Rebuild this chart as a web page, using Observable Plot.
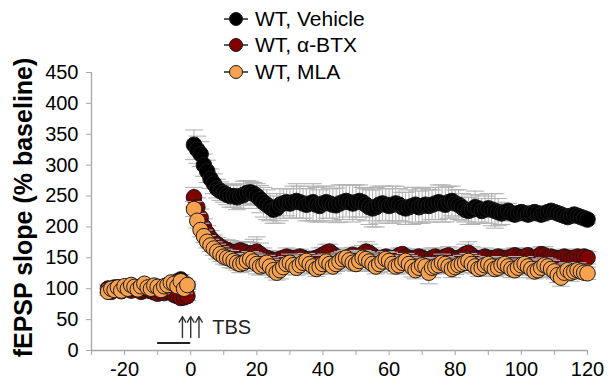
<!DOCTYPE html>
<html>
<head>
<meta charset="utf-8">
<script src="https://cdn.jsdelivr.net/npm/d3@7"></script>
<script src="https://cdn.jsdelivr.net/npm/@observablehq/plot@0.6"></script>
<style>
  html, body { margin: 0; padding: 0; background: #fff; }
  #wrap { position: relative; width: 612px; height: 385px; font-family: "Liberation Sans", Arial, sans-serif; }
  #legend { position: absolute; left: 0; top: 0; }
</style>
</head>
<body>
<div id="wrap"></div>
<script>
// ---- data ----
const times = [-25,-24,-23,-22,-21,-20,-19,-18,-17,-16,-15,-14,-13,-12,-11,-10,-9,-8,-7,-6,-5,-4,-3,-2,-1,
  1,2,3,4,5,6,7,8,9,10,11,12,13,14,15,16,17,18,19,20,21,22,23,24,25,26,27,28,29,30,
  31,32,33,34,35,36,37,38,39,40,41,42,43,44,45,46,47,48,49,50,51,52,53,54,55,56,57,58,59,60,
  61,62,63,64,65,66,67,68,69,70,71,72,73,74,75,76,77,78,79,80,81,82,83,84,85,86,87,88,89,90,
  91,92,93,94,95,96,97,98,99,100,101,102,103,104,105,106,107,108,109,110,111,112,113,114,115,116,117,118,119,120];

const vehicleMean = [100,98,102,100,97,101,103,99,100,102,98,100,101,99,103,100,98,102,104,106,108,112,115,110,105,
  333,325,318,300,290,278,270,262,258,255,252,250,250,248,250,252,255,256,254,250,
  245,240,236,232,228,230,236,238,240,238,240,242,240,238,236,238,240,236,234,238,
  240,238,236,235,238,240,242,240,238,240,242,240,236,232,230,232,236,238,236,234,
  236,238,236,232,230,232,234,236,232,234,236,234,236,238,240,238,236,240,242,238,
  236,232,228,226,228,232,230,226,228,230,228,226,224,222,224,226,222,220,222,224,
  222,220,222,224,222,220,222,224,226,224,222,220,218,216,218,220,218,216,214,212];
const vehicleSem = [6,5,6,5,6,5,6,5,6,5,6,5,6,5,6,5,6,5,6,6,7,7,8,7,6,
  24,22,20,18,18,16,16,15,15,15,16,18,18,20,20,22,20,18,18,20,
  22,24,24,22,22,24,26,24,22,24,26,28,26,24,26,28,30,28,26,28,
  26,24,26,28,30,28,26,28,30,28,26,24,26,28,30,32,30,28,26,28,
  30,28,26,24,26,28,30,28,26,28,28,26,24,26,28,30,28,26,24,22,
  24,22,20,22,24,26,22,20,22,24,26,28,22,18,14,12,10,10,10,10,
  10,9,10,10,9,10,10,9,8,9,8,8,9,8,8,8,7,8,7,7];

const btxMean = [100,95,98,102,96,99,100,97,101,98,95,97,99,96,94,92,95,93,96,94,90,88,85,86,88,
  248,232,215,200,190,182,176,172,168,165,163,160,158,160,162,160,158,155,158,160,
  156,152,150,148,146,145,148,150,152,150,148,150,152,150,148,146,148,150,152,155,
  158,160,156,152,150,148,150,152,155,152,150,156,160,158,154,150,148,150,152,150,
  148,150,154,156,152,150,148,150,152,150,148,146,150,152,148,150,152,154,150,148,
  150,152,156,158,154,150,148,150,152,150,148,150,152,150,148,150,152,154,152,150,
  152,154,150,148,152,156,154,150,152,150,148,150,152,150,148,150,152,150,152,150];
const btxSem = [7,6,7,6,7,6,7,6,7,6,7,6,7,6,7,6,7,6,7,6,7,8,8,8,7,
  16,15,14,13,12,12,11,11,12,14,16,18,16,14,14,16,18,20,22,24,
  18,14,12,12,14,12,10,12,14,12,12,14,12,10,12,14,12,12,14,12,
  14,12,10,12,14,12,12,14,12,10,12,14,16,14,12,12,14,12,10,12,
  12,14,12,10,12,14,12,10,12,14,12,14,16,14,12,10,12,14,12,10,
  12,14,16,18,14,12,10,12,14,12,12,10,12,14,12,10,12,12,14,12,
  10,12,14,12,10,12,14,12,10,12,12,10,12,10,12,10,12,10,10,10];

const mlaMean = [95,100,98,102,97,104,100,106,103,99,104,108,102,100,105,103,98,104,106,110,108,104,112,100,106,
  229,210,195,185,176,170,165,160,156,152,150,148,145,142,140,142,145,148,144,140,
  136,138,142,136,130,126,130,135,140,142,138,134,138,142,145,140,136,132,135,140,
  144,140,136,140,144,148,150,146,142,140,145,150,148,144,140,136,140,144,148,145,
  140,136,138,142,145,140,135,130,134,138,136,126,134,136,138,142,140,136,132,135,
  138,140,142,145,140,136,132,134,138,140,136,132,134,138,140,136,132,130,134,138,
  140,136,132,128,130,134,138,136,132,128,122,118,126,130,126,128,130,128,126,125];
const mlaSem = [6,6,6,6,6,6,6,6,6,6,6,6,6,6,6,6,6,6,6,6,6,7,7,7,6,
  12,12,11,10,10,10,11,12,12,12,12,14,12,12,14,14,12,12,14,16,
  14,12,12,14,12,12,14,12,12,14,12,12,14,12,12,14,12,12,12,14,
  12,14,12,12,14,12,12,14,12,12,14,12,12,14,12,12,14,12,12,14,
  12,12,14,12,12,14,16,14,12,12,14,18,16,12,12,14,12,12,14,12,
  12,14,12,12,14,12,12,14,12,12,14,12,12,14,12,12,14,12,12,14,
  12,12,14,12,12,14,12,12,14,12,12,14,12,12,14,12,12,10,10,10];

const seriesNames = ["WT, Vehicle", "WT, \u03b1-BTX", "WT, MLA"];
const seriesFill = ["#000000", "#800000", "#F8A250"];
const yTicks = [0,50,100,150,200,250,300,350,400,450];
const xTicks = [-30,-20,-10,0,10,20,30,40,50,60,70,80,90,100,110,120];
const xLabelled = [-20,0,20,40,60,80,100,120];
const tbsArrowTimes = [-2.5, 0, 2.5];
const tbsArrowY = [21, 55];
const tbsBar = {x1: -10, x2: 0, y: 12};
const tbsLabel = {x: 6.5, y: 37, text: "TBS"};
const yLabel = "fEPSP slope (% baseline)";

// ---- build tables ----
const means = [vehicleMean, btxMean, mlaMean];
const sems = [vehicleSem, btxSem, mlaSem];
const tables = means.map((m, s) => times.map((t, i) => ({t, mean: m[i], lo: m[i] - sems[s][i], hi: m[i] + sems[s][i]})));

const cap = {draw(ctx, size) { const w = Math.sqrt(size); ctx.moveTo(-w, 0); ctx.lineTo(w, 0); }};

const marks = [
  Plot.ruleY([0], {stroke: "#a6a6a6", strokeWidth: 1.3}),
  Plot.ruleX([-30], {stroke: "#a6a6a6", strokeWidth: 1.3}),
  Plot.axisY({ticks: yTicks, tickSize: 5, tickPadding: 8, stroke: "#a6a6a6", label: null, fontSize: 20}),
  Plot.axisX({ticks: xTicks, tickSize: 5, tickPadding: 6, stroke: "#a6a6a6", label: null, fontSize: 20,
    tickFormat: d => xLabelled.includes(d) ? String(d) : ""}),
];
tables.forEach((tab, s) => {
  marks.push(Plot.ruleX(tab, {x: "t", y1: "lo", y2: "hi", stroke: "#b4b4b4", strokeWidth: 1.1}));
  marks.push(Plot.dot(tab, {x: "t", y: "hi", symbol: cap, r: 5, stroke: "#b4b4b4", strokeWidth: 1.1, fill: "none"}));
  marks.push(Plot.dot(tab, {x: "t", y: "lo", symbol: cap, r: 5, stroke: "#b4b4b4", strokeWidth: 1.1, fill: "none"}));
  marks.push(Plot.dot(tab, {x: "t", y: "mean", r: 7.8, fill: seriesFill[s], stroke: "#1a1a1a", strokeWidth: 1}));
});
marks.push(Plot.arrow(tbsArrowTimes, {x1: d => d, x2: d => d, y1: tbsArrowY[0], y2: tbsArrowY[1], stroke: "#333", strokeWidth: 1.4, headLength: 7, bend: 0}));
marks.push(Plot.ruleY([tbsBar.y], {x1: tbsBar.x1, x2: tbsBar.x2, stroke: "#222", strokeWidth: 2}));
marks.push(Plot.text([tbsLabel], {x: "x", y: "y", text: "text", textAnchor: "start", fontSize: 20, fill: "#222"}));
marks.push(Plot.text([yLabel], {frameAnchor: "left", textAnchor: "middle", rotate: -90, dx: -68, dy: -4, fontSize: 25, fontWeight: "bold", fill: "#000", text: d => d}));

const chart = Plot.plot({
  width: 612, height: 385,
  marginLeft: 91, marginRight: 25, marginTop: 72, marginBottom: 35,
  x: {domain: [-30, 120]},
  y: {domain: [0, 450]},
  style: {fontFamily: "'Liberation Sans', Arial, sans-serif", fontSize: "20px", color: "#000", background: "#fff"},
  marks
});
const wrap = document.getElementById("wrap");
wrap.appendChild(chart);

// ---- legend ----
const rowsY = [19, 45, 72];
const ns = "http://www.w3.org/2000/svg";
const leg = document.createElementNS(ns, "svg");
leg.setAttribute("id", "legend");
leg.setAttribute("width", 612);
leg.setAttribute("height", 90);
seriesNames.forEach((name, i) => {
  const y = rowsY[i];
  const line = document.createElementNS(ns, "line");
  line.setAttribute("x1", 224); line.setAttribute("x2", 248);
  line.setAttribute("y1", y); line.setAttribute("y2", y);
  line.setAttribute("stroke", "#000"); line.setAttribute("stroke-width", 1.3);
  leg.appendChild(line);
  const c = document.createElementNS(ns, "circle");
  c.setAttribute("cx", 236); c.setAttribute("cy", y); c.setAttribute("r", 6.5);
  c.setAttribute("fill", seriesFill[i]); c.setAttribute("stroke", "#1a1a1a");
  leg.appendChild(c);
  const t = document.createElementNS(ns, "text");
  t.setAttribute("x", 255); t.setAttribute("y", y);
  t.setAttribute("dy", "0.35em");
  t.setAttribute("font-size", 21);
  t.setAttribute("font-family", "'Liberation Sans', Arial, sans-serif");
  t.textContent = name;
  leg.appendChild(t);
});
wrap.appendChild(leg);
</script>
</body>
</html>
